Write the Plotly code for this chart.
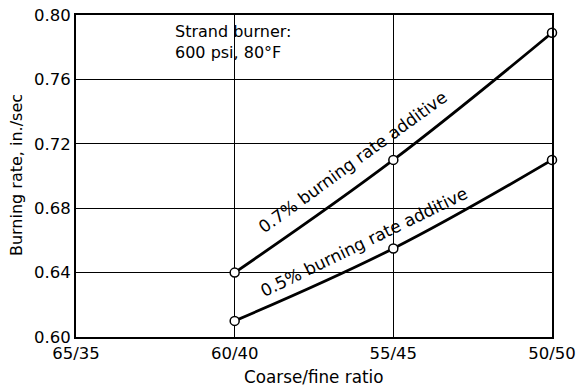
import plotly.graph_objects as go

# Coarse/fine oxidizer ratio categories (left to right)
ratio_labels = ["65/35", "60/40", "55/45", "50/50"]
ratio_pos = [0, 1, 2, 3]

# Measured points (position index on the ratio axis)
x_points = [1, 2, 3]
rate_07 = [0.640, 0.710, 0.789]   # 0.7% burning rate additive
rate_05 = [0.610, 0.655, 0.710]   # 0.5% burning rate additive

y_ticks = [0.60, 0.64, 0.68, 0.72, 0.76, 0.80]

font_family = "DejaVu Sans, Verdana, sans-serif"

fig = go.Figure()
for ys in (rate_07, rate_05):
    fig.add_trace(go.Scatter(
        x=x_points, y=ys,
        mode="lines+markers",
        line=dict(color="black", width=2.8, shape="spline", smoothing=1.1),
        marker=dict(size=9, color="white", symbol="circle",
                    line=dict(color="black", width=1.5)),
        cliponaxis=False,
        showlegend=False,
    ))

# Labels running along each curve
fig.add_annotation(x=1.745, y=0.7085, text="0.7% burning rate additive",
                   showarrow=False, textangle=-36,
                   font=dict(size=17, color="black", family=font_family))
fig.add_annotation(x=1.815, y=0.659, text="0.5% burning rate additive",
                   showarrow=False, textangle=-26,
                   font=dict(size=17, color="black", family=font_family))

# Test conditions
fig.add_annotation(x=0.61, y=0.797, xanchor="left", yanchor="top",
                   text="Strand burner:<br>600 psi, 80°F", align="left",
                   showarrow=False,
                   font=dict(size=16, color="black", family=font_family))

# Axis titles
fig.add_annotation(xref="paper", yref="paper", x=0.499, y=-0.124,
                   xanchor="center", yanchor="middle", showarrow=False,
                   text="Coarse/fine ratio",
                   font=dict(size=16.8, color="black", family=font_family))
fig.add_annotation(xref="paper", yref="paper", x=-0.126, y=0.503,
                   xanchor="center", yanchor="middle", showarrow=False,
                   text="Burning rate, in./sec", textangle=-90,
                   font=dict(size=16, color="black", family=font_family))

fig.update_xaxes(
    range=[0, 3], tickvals=ratio_pos, ticktext=ratio_labels,
    showline=True, mirror=True, linecolor="black", linewidth=2,
    showgrid=True, gridcolor="black", gridwidth=1, zeroline=False,
    automargin=False,
    ticks="", tickfont=dict(size=16.5, color="black", family=font_family),
)
fig.update_yaxes(
    range=[0.60, 0.80], tickvals=y_ticks,
    ticktext=[f"{v:.2f}" for v in y_ticks],
    showline=True, mirror=True, linecolor="black", linewidth=2,
    showgrid=True, gridcolor="black", gridwidth=1, zeroline=False,
    automargin=False,
    ticks="", tickfont=dict(size=16.5, color="black", family=font_family),
)

fig.update_layout(
    width=576, height=390,
    margin=dict(l=76, r=24, t=15, b=53),
    paper_bgcolor="white", plot_bgcolor="white",
    font=dict(family=font_family, color="black"),
)

fig.write_html("out.html")
